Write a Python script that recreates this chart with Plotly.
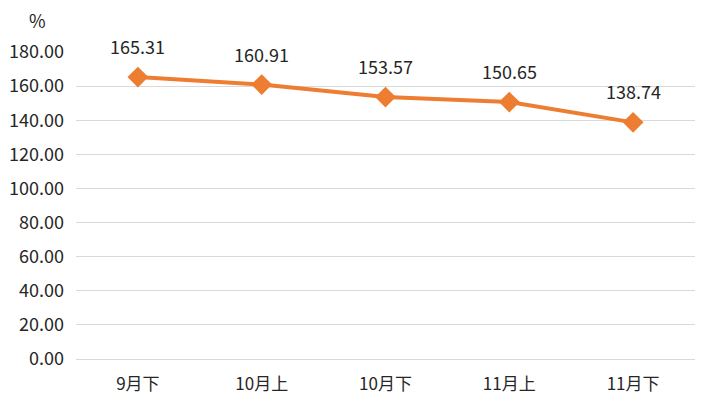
import plotly.graph_objects as go

categories = ["9月下", "10月上", "10月下", "11月上", "11月下"]
values = [165.31, 160.91, 153.57, 150.65, 138.74]
y_ticks = [0, 20, 40, 60, 80, 100, 120, 140, 160, 180]

color = "#ED7D31"
font_family = "Noto Sans CJK SC, Microsoft YaHei, sans-serif"
text_color = "#262626"

fig = go.Figure()
fig.add_trace(go.Scatter(
    x=categories, y=values, mode="lines+markers",
    line=dict(color=color, width=4),
    marker=dict(symbol="diamond", size=16, color=color),
    hoverinfo="skip",
))
for c, v in zip(categories, values):
    fig.add_annotation(x=c, y=v, text=f"{v:.2f}", showarrow=False,
                       yshift=31, font=dict(size=18, color=text_color, family=font_family))
fig.add_annotation(xref="paper", yref="paper", x=-0.0614, y=1.104, text="%",
                   xanchor="center", yanchor="middle",
                   showarrow=False, font=dict(size=18, color=text_color, family=font_family))

fig.update_layout(
    width=724, height=405,
    margin=dict(l=68, r=37, t=44, b=54),
    paper_bgcolor="white", plot_bgcolor="white",
    showlegend=False,
    font=dict(family=font_family, size=17, color=text_color),
)
fig.update_xaxes(showgrid=False, showline=False, ticks="", tickfont=dict(size=17),
                 range=[-0.5, 4.5], ticklabelstandoff=13, automargin=False)
fig.update_yaxes(range=[0, 180], tickvals=y_ticks,
                 ticktext=[f"{t:.2f}" for t in y_ticks],
                 showgrid=True, gridcolor="#D9D9D9", gridwidth=1,
                 zeroline=True, zerolinecolor="#D9D9D9", zerolinewidth=1,
                 showline=False, ticks="", tickfont=dict(size=18),
                 ticklabelstandoff=11, automargin=False)

fig.write_html("out.html")
